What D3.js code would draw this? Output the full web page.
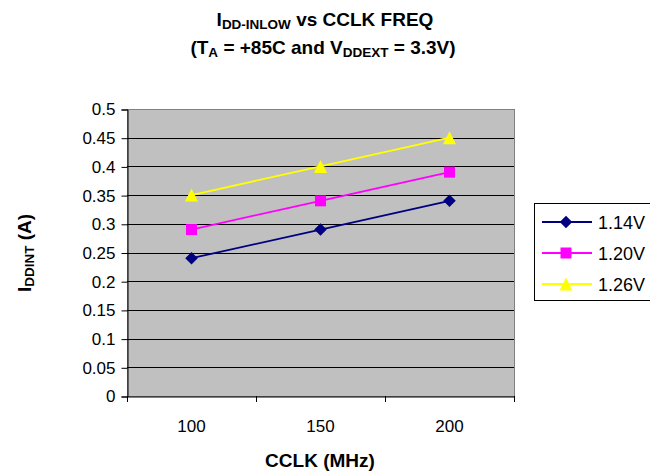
<!DOCTYPE html>
<html><head><meta charset="utf-8">
<script src="https://cdn.jsdelivr.net/npm/d3@7"></script>
<style>body{margin:0;background:#fff}svg{display:block}text{font-family:"Liberation Sans",Arial,sans-serif}</style>
</head><body><svg id="c" width="650" height="474"></svg>
<script>
const categories = ["100","150","200"];
const seriesNames = ["1.14V","1.20V","1.26V"];
const s114 = [0.24,0.29,0.34];
const s120 = [0.29,0.34,0.39];
const s126 = [0.35,0.40,0.45];
const yTicks = [0,0.05,0.1,0.15,0.2,0.25,0.3,0.35,0.4,0.45,0.5];

// custom marker shapes (size = bounding box width in px squared)
const diamond = {draw(ctx,size){const r=Math.sqrt(size)/2;ctx.moveTo(0,-r);ctx.lineTo(r,0);ctx.lineTo(0,r);ctx.lineTo(-r,0);ctx.closePath();}};
const square = {draw(ctx,size){const r=Math.sqrt(size)/2;ctx.rect(-r,-r,2*r,2*r);}};
const triangle = {draw(ctx,size){const r=Math.sqrt(size)/2;ctx.moveTo(0,-r);ctx.lineTo(r,r);ctx.lineTo(-r,r);ctx.closePath();}};

const series = [
  {name:seriesNames[0], values:s114, color:"#000080", sym:diamond, size:156},
  {name:seriesNames[1], values:s120, color:"#FF00FF", sym:square, size:121},
  {name:seriesNames[2], values:s126, color:"#FFFF00", sym:triangle, size:169}
];
const svg = d3.select("#c");
const L=127,R=514,T=109,B=396;
const x = d3.scaleBand().domain(categories).range([L,R]);
const y = d3.scaleLinear().domain([0,0.5]).range([B,T]);

svg.append("rect").attr("x",L+0.5).attr("y",T+0.5).attr("width",R-L).attr("height",B-T)
  .attr("fill","#C0C0C0").attr("stroke","#808080").attr("stroke-width",1);
svg.append("g").selectAll("line").data(yTicks.filter(d=>d>0 && d<0.5)).join("line")
  .attr("x1",L).attr("x2",R).attr("y1",d=>Math.round(y(d))+0.5).attr("y2",d=>Math.round(y(d))+0.5)
  .attr("stroke","#000").attr("stroke-width",1);

const yAxis = d3.axisLeft(y).tickValues(yTicks).tickFormat(d=>String(d)).tickSize(6).tickPadding(6);
const gy = svg.append("g").attr("transform",`translate(${L+0.5},0.5)`).call(yAxis);
gy.selectAll("text").attr("font-size",17).attr("fill","#000");
gy.selectAll("line,path").attr("stroke","#000");

const xAxis = d3.axisBottom(x).tickSize(0).tickPadding(23);
const gx = svg.append("g").attr("transform",`translate(0,${B+0.5})`).call(xAxis);
gx.select("path").attr("stroke","#000");
gx.selectAll("text").attr("font-size",17).attr("fill","#000");
const bounds = categories.map(c=>x(c)).concat([x(categories[categories.length-1])+x.bandwidth()]);
svg.append("g").selectAll("line").data(bounds).join("line")
  .attr("x1",d=>Math.round(d)+0.5).attr("x2",d=>Math.round(d)+0.5).attr("y1",B).attr("y2",B+6)
  .attr("stroke","#000");

const cx = c=>x(c)+x.bandwidth()/2;
series.forEach(s=>{
  const g = svg.append("g");
  g.append("path").datum(s.values)
    .attr("d",d3.line().x((d,i)=>cx(categories[i])).y(d=>y(d)))
    .attr("fill","none").attr("stroke",s.color).attr("stroke-width",1.8);
  g.selectAll("path.m").data(s.values).join("path").attr("class","m")
    .attr("transform",(d,i)=>`translate(${cx(categories[i])},${y(d)})`)
    .attr("d",d3.symbol().type(s.sym).size(s.size)).attr("fill",s.color);
});

// titles
const t = svg.append("text").attr("x",325).attr("y",26).attr("text-anchor","middle")
  .attr("font-size",19).attr("font-weight","bold");
t.append("tspan").text("I");
t.append("tspan").attr("font-size",13.5).attr("dy",3).text("DD-INLOW");
t.append("tspan").attr("dy",-3).text(" vs CCLK FREQ");
const t2 = svg.append("text").attr("x",323).attr("y",54).attr("text-anchor","middle")
  .attr("font-size",19).attr("font-weight","bold");
t2.append("tspan").text("(T");
t2.append("tspan").attr("font-size",13.5).attr("dy",3).text("A");
t2.append("tspan").attr("dy",-3).text(" = +85C and V");
t2.append("tspan").attr("font-size",13.5).attr("dy",3).text("DDEXT");
t2.append("tspan").attr("dy",-3).text(" = 3.3V)");

const yl = svg.append("text").attr("transform","translate(31,253) rotate(-90)").attr("text-anchor","middle")
  .attr("font-size",19).attr("font-weight","bold");
yl.append("tspan").text("I");
yl.append("tspan").attr("font-size",13.5).attr("dy",3).text("DDINT");
yl.append("tspan").attr("dy",-3).text(" (A)");

svg.append("text").attr("x",320).attr("y",467).attr("text-anchor","middle")
  .attr("font-size",19).attr("font-weight","bold").text("CCLK (MHz)");

// legend
const lg = svg.append("g");
lg.append("rect").attr("x",534.5).attr("y",203.5).attr("width",130).attr("height",97)
  .attr("fill","#fff").attr("stroke","#000");
series.forEach((s,i)=>{
  const yy = 222 + i*31;
  lg.append("line").attr("x1",542).attr("x2",592).attr("y1",yy).attr("y2",yy).attr("stroke",s.color).attr("stroke-width",1.8);
  lg.append("path").attr("transform",`translate(566,${yy})`).attr("d",d3.symbol().type(s.sym).size(s.size)).attr("fill",s.color);
  lg.append("text").attr("x",598).attr("y",yy+7).attr("font-size",18).text(s.name);
});
</script></body></html>
